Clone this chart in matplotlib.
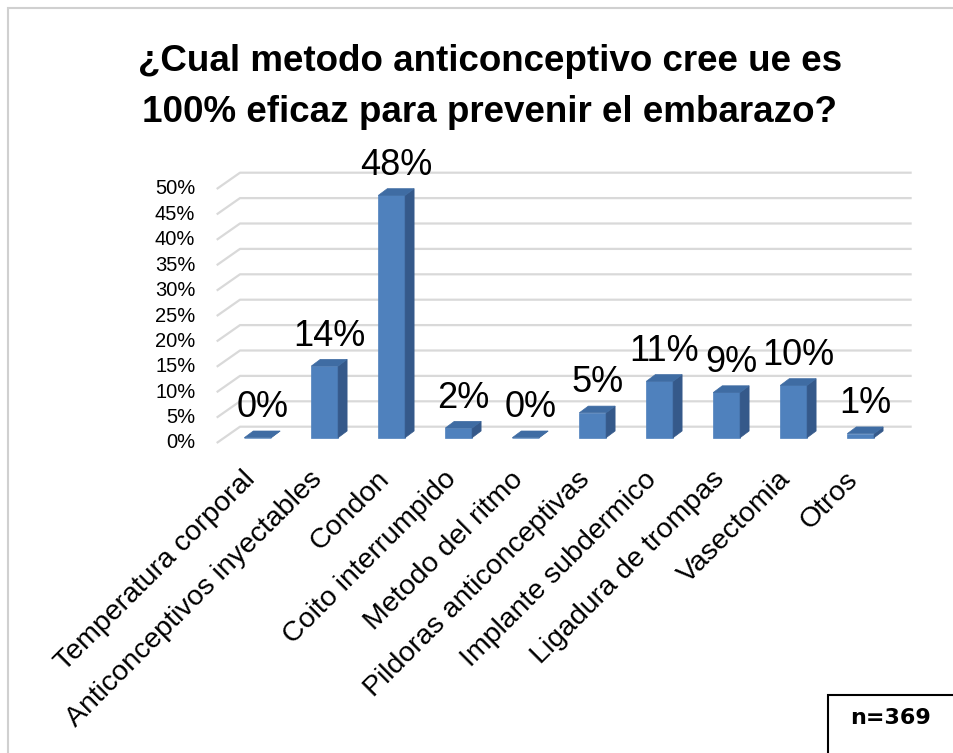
import matplotlib
matplotlib.use("Agg")
import matplotlib.pyplot as plt
from matplotlib.patches import Polygon, Rectangle

# ---- data ----
title_lines = ["¿Cual metodo anticonceptivo cree ue es",
               "100% eficaz para prevenir el embarazo?"]
categories = ["Temperatura corporal", "Anticonceptivos inyectables", "Condon",
              "Coito interrumpido", "Metodo del ritmo", "Pildoras anticonceptivas",
              "Implante subdermico", "Ligadura de trompas", "Vasectomia", "Otros"]
values = [0.0, 14.1, 47.7, 1.9, 0.0, 4.9, 11.1, 8.9, 10.3, 0.8]
tick_values = [0, 5, 10, 15, 20, 25, 30, 35, 40, 45, 50]
sample_note = "n=369"

W, H = 954, 753
fig = plt.figure(figsize=(W / 100, H / 100), dpi=100)
fig.patch.set_facecolor("white")

# axes covering the whole figure; data mapping: px = 257.7 + 67*x, py = 443 - 5.08*y
ax = fig.add_axes([0, 0, 1, 1])
ax.set_xlim((0 - 257.7) / 67, (W - 257.7) / 67)
ax.set_ylim((443 - H) / 5.08, (443 - 0) / 5.08)
ax.axis("off")

FONT = "Liberation Sans"

# 3D geometry in data units
wall_dx, wall_dy = 23.3 / 67, 16.3 / 5.08
front_x0 = (216.7 - 257.7) / 67
wall_x1 = (911.7 - 257.7) / 67
bar_half = 0.2
bar_dx, bar_dy = 9.0 / 67, 6.7 / 5.08
bar_base = 5.3 / 5.08

grid_col = "#D9D9D9"
for v in tick_values:
    ax.plot([front_x0, front_x0 + wall_dx, wall_x1], [v, v + wall_dy, v + wall_dy],
            color=grid_col, lw=1.6, solid_capstyle="butt", zorder=1)
    ax.text(front_x0 - 0.32, v, f"{v}%", ha="right", va="center",
            fontsize=14.5, family=FONT, color="black")

front_c, side_c, top_c = "#4F81BD", "#35598A", "#3F6CA3"
for i, v in enumerate(values):
    x0, x1 = i - bar_half, i + bar_half
    y0, y1 = bar_base, bar_base + v
    ax.add_patch(Polygon([(x0, y0), (x1, y0), (x1, y1), (x0, y1)], closed=True,
                         facecolor=front_c, edgecolor=front_c, lw=0.5, zorder=3))
    ax.add_patch(Polygon([(x1, y0), (x1 + bar_dx, y0 + bar_dy), (x1 + bar_dx, y1 + bar_dy), (x1, y1)],
                         closed=True, facecolor=side_c, edgecolor=side_c, lw=0.5, zorder=3))
    ax.add_patch(Polygon([(x0, y1), (x1, y1), (x1 + bar_dx, y1 + bar_dy), (x0 + bar_dx, y1 + bar_dy)],
                         closed=True, facecolor=top_c, edgecolor=top_c, lw=0.5, zorder=3))
    ax.text(i + bar_dx / 2, y1 + 4.0, f"{v:.0f}%", ha="center", va="baseline",
            fontsize=26, family=FONT, color="black", zorder=4)
    ax.text(i + 0.04, -4.6, categories[i], rotation=45, ha="right", va="top",
            fontsize=20.5, family=FONT, color="black", rotation_mode="default")

# title
fig.text(490 / W, 1 - 71 / H, title_lines[0], ha="center", va="baseline",
         fontsize=26.5, fontweight="bold", family=FONT)
fig.text(490 / W, 1 - 122 / H, title_lines[1], ha="center", va="baseline",
         fontsize=26.5, fontweight="bold", family=FONT)

# outer border
fig.patches.append(Rectangle((8 / W, 1 - 760 / H), (960 - 8) / W, (760 - 8) / H,
                             transform=fig.transFigure, fill=False,
                             edgecolor="#D0D0D0", lw=1.5))
# n box
fig.patches.append(Rectangle((828 / W, 1 - 770 / H), (970 - 828) / W, (770 - 695) / H,
                             transform=fig.transFigure, facecolor="white",
                             edgecolor="black", lw=1.5))
fig.text(891 / W, 1 - 718 / H, sample_note, ha="center", va="center",
         fontsize=16, fontweight="bold", family="DejaVu Sans")

fig.savefig("out.png", dpi=100)
